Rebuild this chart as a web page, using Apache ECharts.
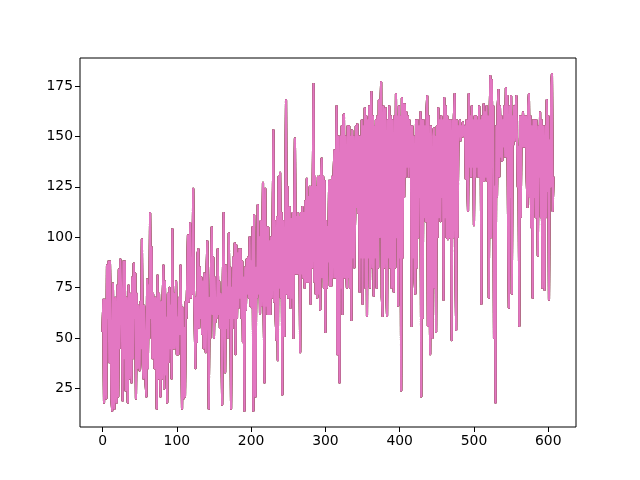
<!DOCTYPE html>
<html>
<head>
<meta charset="utf-8">
<style>html,body{margin:0;padding:0;background:#fff}#c{width:640px;height:480px}</style>
<script src="https://cdn.jsdelivr.net/npm/echarts@6/dist/echarts.min.js"></script>
</head>
<body>
<div id="c"></div>
<script>
const xTicks = [0,100,200,300,400,500,600];
const yTicks = [25,50,75,100,125,150,175];
const values = [
53,69,18,69,40,20,86,60,88,38,88,55,20,14,77,30,15,70,40,18,
76,21,84,45,89,89,60,19,88,40,88,24,70,45,18,76,30,72,55,28,
80,40,87,60,82,20,72,35,66,40,34,68,45,99,38,30,66,50,28,21,
79,35,76,50,112,60,95,40,72,62,35,70,50,15,81,30,72,48,21,68,
30,70,86,25,78,32,60,18,72,38,75,45,66,30,104,45,72,45,60,78,
42,60,42,70,52,86,55,15,65,20,55,21,68,60,80,101,68,82,107,70,
90,72,124,75,60,35,70,48,92,94,55,85,60,80,52,78,45,82,60,43,
80,98,60,15,70,50,85,105,62,90,50,80,58,70,60,94,62,78,55,72,
55,17,80,112,60,33,86,55,75,50,102,60,85,15,75,55,90,60,97,42,
96,60,92,65,94,70,94,60,88,48,80,14,85,64,89,72,90,70,100,66,
88,65,105,14,111,72,21,85,70,116,72,100,62,108,66,90,127,62,28,124,
66,105,62,105,62,98,62,100,70,105,153,68,108,62,49,110,39,130,75,132,
70,112,22,108,60,51,112,168,72,125,70,110,115,65,109,70,112,50,112,149,
82,110,82,112,82,110,43,112,82,115,80,112,75,118,78,129,78,120,78,125,
67,125,85,125,176,78,130,72,125,70,130,72,130,64,130,139,80,130,75,128,
53,108,75,105,88,128,76,128,76,130,80,130,143,80,125,165,42,150,81,28,
150,75,155,62,160,161,80,150,85,75,155,80,155,75,150,59,153,90,150,85,
110,155,115,156,112,150,73,150,90,158,67,155,90,164,75,160,61,158,90,165,
75,160,172,85,160,71,155,90,158,75,160,85,168,100,160,177,70,61,165,85,
160,164,75,61,158,90,165,85,160,75,158,90,73,160,85,171,100,160,66,165,
90,160,24,169,90,166,120,166,130,162,135,160,130,158,135,155,56,155,90,150,
80,72,158,85,158,100,155,120,162,21,158,60,158,110,155,108,160,170,56,160,
100,42,155,80,50,150,154,75,150,53,155,100,164,110,158,108,160,120,158,69,
169,110,165,100,160,99,158,100,158,120,49,158,100,160,171,94,54,158,100,155,
150,158,148,155,150,157,157,150,155,129,158,130,113,171,135,160,130,165,135,158,
106,160,130,160,135,158,130,165,130,158,67,160,128,166,128,162,130,165,128,160,
70,155,180,100,178,140,165,50,125,18,155,120,165,173,130,165,140,160,138,158,
145,165,140,174,140,170,100,65,165,120,170,72,160,146,165,148,160,170,170,125,
145,56,160,110,160,145,162,145,160,145,160,130,115,165,171,120,160,105,155,70,
158,120,158,110,158,125,91,155,130,162,110,158,75,155,120,74,155,110,168,123,
160,69,148,125,175,181,113,130
];
const seriesColors = ['#1f77b4','#ff7f0e','#2ca02c','#d62728','#9467bd','#8c564b','#e377c2'];
const points = values.map((v,i)=>[i,v]);
const font = {color:'#000',fontFamily:'DejaVu Sans',fontSize:13.9};
const chart = echarts.init(document.getElementById('c'),null,{renderer:'canvas'});
chart.setOption({
  animation:false,
  backgroundColor:'#fff',
  grid:{show:true,left:80,right:64,top:58,bottom:53,borderColor:'#000',borderWidth:1,backgroundColor:'#fff'},
  xAxis:{type:'value',min:-30.35,max:637.35,
    axisLine:{show:false,onZero:false},splitLine:{show:false},
    axisTick:{show:true,length:5,lineStyle:{color:'#000',width:1},customValues:xTicks},
    axisLabel:{...font,margin:7,customValues:xTicks,formatter:v=>String(v)}},
  yAxis:{type:'value',min:5.9,max:188.9,
    axisLine:{show:false,onZero:false},splitLine:{show:false},
    axisTick:{show:true,length:5,lineStyle:{color:'#000',width:1},customValues:yTicks},
    axisLabel:{...font,margin:7,padding:[2,0,0,0],customValues:yTicks,formatter:v=>String(v)}},
  series:seriesColors.map(c=>({type:'line',data:points,showSymbol:false,symbol:'none',silent:true,
    sampling:false,clip:true,lineStyle:{color:c,width:2.08,join:'round',cap:'butt'}}))
});
</script>
</body>
</html>
